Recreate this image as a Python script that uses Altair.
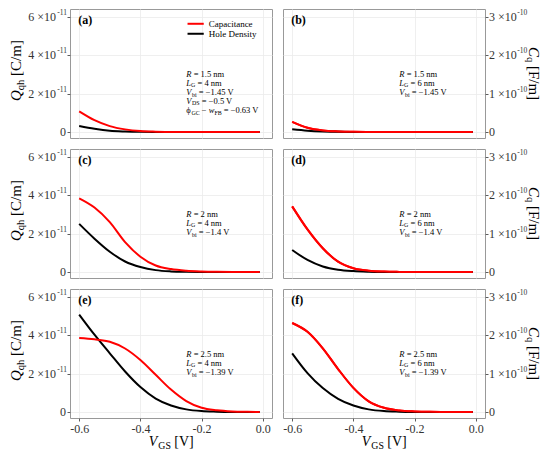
import altair as alt
import pandas as pd

# ---------------- data ----------------
vgs = [-0.6, -0.55, -0.5, -0.45, -0.4, -0.35, -0.3, -0.25, -0.2, -0.15, -0.1, -0.05, -0.01]

# capacitance C_q in units of 1e-10 F/m
cap_a = [0.54, 0.31, 0.155, 0.07, 0.025, 0.01, 0.004, 0.002, 0.001, 0, 0, 0, 0]
cap_b = [0.265, 0.11, 0.04, 0.015, 0.005, 0.002, 0.001, 0, 0, 0, 0, 0, 0]
cap_c = [1.92, 1.68, 1.30, 0.78, 0.40, 0.17, 0.077, 0.034, 0.015, 0.006, 0.002, 0.001, 0]
cap_d = [1.71, 1.11, 0.62, 0.27, 0.10, 0.035, 0.012, 0.004, 0.001, 0, 0, 0, 0]
cap_e = [1.93, 1.895, 1.83, 1.655, 1.355, 0.97, 0.585, 0.285, 0.11, 0.045, 0.015, 0.005, 0.001]
cap_f = [2.32, 2.09, 1.66, 1.12, 0.63, 0.28, 0.11, 0.04, 0.015, 0.005, 0.002, 0, 0]

# hole density Q_qh in units of 1e-11 C/m
hole_a = [0.31, 0.17, 0.07, 0.03, 0.01, 0.004, 0.001, 0, 0, 0, 0, 0, 0]
hole_b = [0.14, 0.07, 0.03, 0.01, 0.004, 0.001, 0, 0, 0, 0, 0, 0, 0]
hole_c = [2.51, 1.74, 1.06, 0.55, 0.26, 0.10, 0.035, 0.012, 0.004, 0.001, 0, 0, 0]
hole_d = [1.15, 0.63, 0.29, 0.12, 0.05, 0.02, 0.007, 0.002, 0.001, 0, 0, 0, 0]
hole_e = [5.08, 4.03, 3.06, 2.11, 1.30, 0.70, 0.34, 0.14, 0.05, 0.02, 0.006, 0.002, 0]
hole_f = [3.06, 2.03, 1.25, 0.69, 0.34, 0.14, 0.05, 0.02, 0.006, 0.002, 0, 0, 0]

panel_ids = ["a", "b", "c", "d", "e", "f"]
R_vals = ["1.5", "1.5", "2", "2", "2.5", "2.5"]
LG_vals = ["4", "6", "4", "6", "4", "6"]
Vbi_vals = ["−1.45", "−1.45", "−1.4", "−1.4", "−1.39", "−1.39"]
extra_lines_a = [("DS", "−0.5 V")]
x_ticks = [-0.6, -0.4, -0.2, 0.0]
q_ticks = [0, 2, 4, 6]
c_ticks = [0, 1, 2, 3]
q_exp = "-11"
c_exp = "-10"
legend_names = ["Capacitance", "Hole Density"]

caps = [cap_a, cap_b, cap_c, cap_d, cap_e, cap_f]
holes = [hole_a, hole_b, hole_c, hole_d, hole_e, hole_f]

rows = []
for pid, cs, hs in zip(panel_ids, caps, holes):
    for xv, cv, hv in zip(vgs, cs, hs):
        rows.append({"panel": pid, "vgs": xv, "cap": cv, "hole": hv})
df = pd.DataFrame(rows)

# ---------------- layout / style ----------------
FONT = "Liberation Serif"
W, H = 202, 129
XDOM = [-0.63, 0.03]
QDOM = [-0.31, 6.41]
CDOM = [-0.155, 3.205]
xs = alt.Scale(domain=XDOM, nice=False, zero=False)
qs = alt.Scale(domain=QDOM, nice=False, zero=False)
cs_ = alt.Scale(domain=CDOM, nice=False, zero=False)

TW = {' ': 0.25, '=': 0.564, '.': 0.25, '−': 0.564, '-': 0.333, '[': 0.333,
      ']': 0.333, '/': 0.278, 'n': 0.5, 'm': 0.778, 'V': 0.68, 'C': 0.667, 'F': 0.556,
      'R': 0.62, 'L': 0.56, 'G': 0.722, 'S': 0.556, 'D': 0.722, 'B': 0.667, 'b': 0.5,
      'i': 0.278, 'q': 0.5, 'h': 0.5, 'Q': 0.722, 'w': 0.667, 'ϕ': 0.6, '×': 0.564}


def tw(s, size):
    return sum(TW.get(ch, 0.5) for ch in s) * size


def rich(pieces, size):
    """Split rich text into pieces with pixel offsets; leading spaces become offset."""
    out, off = [], 0.0
    for t, k in pieces:
        s = size * (0.7 if k == "sub" else 1.0)
        lead = len(t) - len(t.lstrip(" "))
        off += lead * TW[" "] * s
        core = t.strip(" ")
        out.append((core, k, off, s))
        off += tw(core, s)
        trail = len(t) - len(t.rstrip(" "))
        off += trail * TW[" "] * s
    return out, off


def mk_style(kind, size, base_size):
    d = dict(font=FONT, fontSize=size, color="black")
    if kind == "it":
        d["fontStyle"] = "italic"
    if kind == "sub":
        d["dy"] = base_size * 0.3
    return d


one = pd.DataFrame({"k": [0]})


def pixel_title(pieces, size, px, py, angle):
    parts, total = rich(pieces, size)
    layers = []
    for t, k, off, s in parts:
        st = mk_style(k, s, size)
        dy = st.pop("dy", 0)
        layers.append(
            alt.Chart(one).mark_text(text=t, align="left", baseline="middle", angle=angle,
                                     dx=-total / 2 + off, dy=dy, **st)
            .encode(x=alt.value(px), y=alt.value(py))
        )
    return layers


ANN_SIZE = 8.5
X0 = -0.25
LINE_Y = [3.02, 2.57, 2.08, 1.64, 1.15]


def annotation_layers(i):
    lines = [
        [("R", "it"), (" = " + R_vals[i] + " nm", "rm")],
        [("L", "it"), ("G", "sub"), (" = " + LG_vals[i] + " nm", "rm")],
        [("V", "it"), ("bi", "sub"), (" = " + Vbi_vals[i] + " V", "rm")],
    ]
    if i == 0:
        for sub, val in extra_lines_a:
            lines.append([("V", "it"), (sub, "sub"), (" = " + val, "rm")])
        lines.append([("ϕ", "rm"), ("GC", "sub"), (" − ", "rm"), ("w", "it"),
                      ("FB", "sub"), (" = −0.63 V", "rm")])
    recs = []
    for li, pieces in enumerate(lines):
        parts, _ = rich(pieces, ANN_SIZE)
        for t, k, off, s in parts:
            recs.append({"vgs": X0 + off * (XDOM[1] - XDOM[0]) / W, "y": LINE_Y[li],
                         "text": t, "kind": k})
    adf = pd.DataFrame(recs)
    layers = []
    for kind in ["it", "rm", "sub"]:
        sub = adf[adf.kind == kind]
        if len(sub) == 0:
            continue
        s = ANN_SIZE * (0.7 if kind == "sub" else 1.0)
        st = mk_style(kind, s, ANN_SIZE)
        layers.append(
            alt.Chart(sub).mark_text(align="left", baseline="middle", **st).encode(
                x=alt.X("vgs:Q", scale=xs),
                y=alt.Y("y:Q", scale=qs, axis=None),
                text="text:N",
            )
        )
    return layers


def legend_layers():
    ldf = pd.DataFrame({"vgs": [-0.246, -0.246], "x2": [-0.193, -0.193], "y": [5.64, 5.12],
                        "col": ["red", "black"], "tx": [-0.177, -0.177], "name": legend_names})
    rules = alt.Chart(ldf).mark_rule(strokeWidth=2).encode(
        x=alt.X("vgs:Q", scale=xs), x2="x2:Q",
        y=alt.Y("y:Q", scale=qs, axis=None),
        color=alt.Color("col:N", scale=None),
    )
    texts = alt.Chart(ldf).mark_text(align="left", baseline="middle", font=FONT,
                                     fontSize=9, color="black").encode(
        x=alt.X("tx:Q", scale=xs),
        y=alt.Y("y:Q", scale=qs, axis=None),
        text="name:N",
    )
    return [rules, texts]


LBL = 12
SUP = 7.5
LBL_COLOR = "#333333"


def ytick_label_layers(left):
    ticks = q_ticks if left else c_ticks
    exp = q_exp if left else c_exp
    scale = qs if left else cs_
    recs = []
    for v in ticks:
        recs.append({"v": v, "t": "0" if v == 0 else f"{v} ×10", "sup": "" if v == 0 else exp})
    ldf = pd.DataFrame(recs)
    supw = tw(exp, SUP)
    z = ldf[ldf.v == 0]
    m = ldf[ldf.v != 0]
    base = dict(baseline="middle", font=FONT, color=LBL_COLOR)
    layers = []
    if left:
        layers.append(alt.Chart(z).mark_text(align="right", fontSize=LBL, **base).encode(
            x=alt.value(-4), y=alt.Y("v:Q", scale=scale, axis=None), text="t:N"))
        layers.append(alt.Chart(m).mark_text(align="right", fontSize=LBL, **base).encode(
            x=alt.value(-4 - supw), y=alt.Y("v:Q", scale=scale, axis=None), text="t:N"))
        layers.append(alt.Chart(m).mark_text(align="right", fontSize=SUP, dy=-4, **base).encode(
            x=alt.value(-3), y=alt.Y("v:Q", scale=scale, axis=None), text="sup:N"))
    else:
        mainw = tw("3 ×10", LBL)
        layers.append(alt.Chart(ldf).mark_text(align="left", fontSize=LBL, **base).encode(
            x=alt.value(W + 4), y=alt.Y("v:Q", scale=scale, axis=None), text="t:N"))
        layers.append(alt.Chart(m).mark_text(align="left", fontSize=SUP, dy=-4, **base).encode(
            x=alt.value(W + 4 + mainw + 0.5), y=alt.Y("v:Q", scale=scale, axis=None),
            text="sup:N"))
    return layers


def panel(i):
    pid = panel_ids[i]
    left = i % 2 == 0
    bottom = i >= 4
    d = df[df.panel == pid]

    xaxis = alt.Axis(values=x_ticks, grid=True, labels=bottom, ticks=bottom, domain=False,
                     title=None,
                     labelExpr="datum.value == 0 ? '0.0' : '-' + format(abs(datum.value), '.1f')")
    x = alt.X("vgs:Q", scale=xs, axis=xaxis)

    def line(field, color, scale, axis=None, xenc=None):
        yenc = alt.Y(f"{field}:Q", scale=scale, axis=axis)
        return alt.Chart(d).mark_line(color=color, strokeWidth=2, interpolate="monotone").encode(
            x=xenc if xenc is not None else alt.X("vgs:Q", scale=xs), y=yenc)

    if left:
        qaxis = alt.Axis(values=q_ticks, grid=True, domain=False, title=None, orient="left",
                         labels=False)
        layers = [line("hole", "black", qs, qaxis, x), line("cap", "#ff0000", cs_)]
    else:
        caxis = alt.Axis(values=c_ticks, grid=True, domain=False, title=None, orient="right",
                         labels=False)
        layers = [line("cap", "#ff0000", cs_, caxis, x), line("hole", "black", qs),
                  line("cap", "#ff0000", cs_)]

    lab = alt.Chart(pd.DataFrame({"vgs": [-0.6], "y": [5.82], "t": ["(" + pid + ")"]})).mark_text(
        align="left", baseline="middle", font=FONT, fontSize=12, fontWeight="bold", dx=-1,
        color="black").encode(x=alt.X("vgs:Q", scale=xs), y=alt.Y("y:Q", scale=qs, axis=None),
                              text="t:N")
    layers.append(lab)
    layers += annotation_layers(i)
    if i == 0:
        layers += legend_layers()
    layers += ytick_label_layers(left)

    if left:
        layers += pixel_title([("Q", "it"), ("qh", "sub"), (" [C/m]", "rm")], 15, -54, H / 2 - 3, 270)
    else:
        layers += pixel_title([("C", "it"), ("q", "sub"), (" [F/m]", "rm")], 15, W + 49, H / 2, 90)
    if bottom:
        layers += pixel_title([("V", "it"), ("GS", "sub"), (" [V]", "rm")], 14, W / 2, H + 24, 0)

    return alt.layer(*layers).resolve_scale(y="independent").properties(width=W, height=H)


chart = alt.concat(*[panel(i) for i in range(6)], columns=2,
                   spacing={"row": 11, "column": 11}, bounds="flush").properties(
    padding=0
).configure_view(stroke="#999999", strokeWidth=1).configure_axis(
    labelFont=FONT, labelFontSize=12, labelColor=LBL_COLOR, tickColor="#333333",
    tickSize=3, tickWidth=0.8, gridColor="#ebebeb", gridWidth=0.8, labelPadding=2
)

chart.save("out.html", embed_options={"renderer": "svg", "actions": False})
